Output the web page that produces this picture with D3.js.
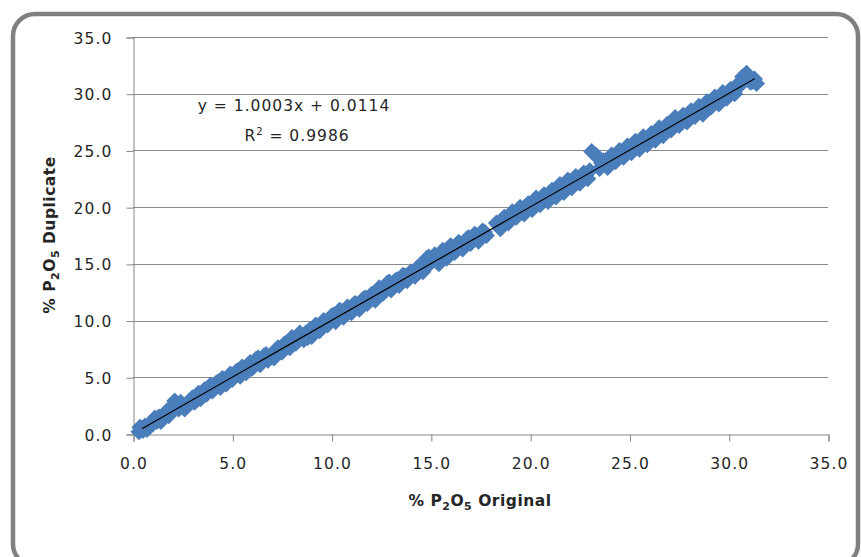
<!DOCTYPE html>
<html>
<head>
<meta charset="utf-8">
<script src="https://cdn.jsdelivr.net/npm/d3@7"></script>
<style>
  body { margin: 0; background: #fff; }
  text { font-family: "DejaVu Sans", sans-serif; }
</style>
</head>
<body>
<script>
// % P2O5 original vs duplicate assays (two passes along the band)
var origX = [0.3,0.4,0.5,0.6,0.8,0.9,1.0,1.2,1.3,1.5,1.6,1.8,1.9,2.0,2.1,2.2,2.3,2.5,2.7,2.8,
  3.0,3.1,3.3,3.4,3.6,3.7,3.9,4.0,4.2,4.4,4.5,4.7,4.9,5.0,5.2,5.4,5.5,5.7,5.9,6.0,
  6.2,6.4,6.6,6.8,7.0,7.1,7.3,7.5,7.7,7.9,8.0,8.2,8.4,8.6,8.8,9.0,9.2,9.4,9.6,9.8,
  10.0,10.2,10.4,10.6,10.8,11.0,11.2,11.4,11.6,11.8,12.0,12.2,12.4,12.6,12.8,13.0,13.2,13.4,13.6,13.8,
  14.0,14.2,14.4,14.6,14.8,15.0,15.2,15.4,15.6,15.8,16.0,16.2,16.4,16.6,16.8,17.0,17.2,17.4,17.6,17.8,
  18.3,18.5,18.7,18.9,19.1,19.3,19.5,19.7,19.9,20.1,20.3,20.5,20.7,20.9,21.1,21.3,21.5,21.7,21.9,22.1,
  22.3,22.5,22.7,22.9,23.1,23.3,23.5,23.7,23.9,24.1,24.3,24.5,24.7,24.9,25.1,25.3,25.5,25.7,25.9,26.1,
  26.3,26.5,26.7,26.9,27.1,27.3,27.5,27.7,27.9,28.1,28.3,28.5,28.7,28.9,29.1,29.3,29.5,29.7,29.9,30.1,
  30.3,30.5,30.7,30.9,31.1,31.3,31.4];
var dupY = [0.2,0.5,0.3,0.7,0.6,1.0,0.9,1.1,1.5,1.3,1.8,1.6,2.2,2.5,2.9,2.6,2.2,2.4,2.5,2.6,
  3.2,2.8,3.6,3.1,3.9,3.5,4.3,3.8,4.5,4.1,4.9,4.4,5.3,4.8,5.5,5.1,5.9,5.4,6.3,5.8,
  6.6,6.1,6.9,6.5,7.0,6.7,7.6,7.2,8.0,7.6,8.5,8.0,8.9,8.3,8.5,8.6,9.6,9.1,10.0,9.6,
  10.4,9.9,10.9,10.3,11.2,10.7,11.5,11.0,11.9,11.5,12.3,11.8,12.9,12.4,13.3,12.7,13.5,13.1,14.0,13.5,
  14.3,13.9,14.8,14.3,15.5,15.1,15.8,15.0,16.2,15.5,16.6,16.0,16.9,16.3,17.2,16.8,17.6,17.0,17.9,17.5,
  18.6,18.1,19.1,18.6,19.6,19.1,20.0,19.4,20.3,19.8,20.8,20.2,21.1,20.5,21.5,20.9,22.0,21.3,22.4,21.7,
  22.7,22.1,23.0,22.5,24.9,24.6,23.4,24.1,23.5,24.6,24.0,25.0,24.4,25.4,24.8,25.8,25.1,26.2,25.5,26.5,
  25.9,27.0,26.3,27.3,26.8,27.9,27.2,28.1,27.5,28.5,28.0,28.9,28.2,29.3,28.8,29.7,29.1,30.1,29.6,30.4,
  30.0,30.9,31.5,31.8,31.0,31.3,30.9];
var origX2 = [0.35,0.7,1.1,1.4,1.7,2.05,2.4,2.6,2.9,3.2,3.5,3.8,4.1,4.3,4.6,4.8,5.1,5.3,5.6,5.8,
  6.1,6.3,6.5,6.7,6.9,7.2,7.4,7.6,7.8,8.1,8.3,8.5,8.7,8.9,9.1,9.3,9.5,9.7,9.9,10.1,
  10.3,10.5,10.7,10.9,11.1,11.3,11.5,11.7,11.9,12.1,12.3,12.5,12.7,12.9,13.1,13.3,13.5,13.7,13.9,14.1,
  14.3,14.5,14.7,14.9,15.1,15.3,15.5,15.7,15.9,16.1,16.3,16.5,16.7,16.9,17.1,17.3,17.5,17.7,18.4,18.6,
  18.8,19.0,19.2,19.4,19.6,19.8,20.0,20.2,20.4,20.6,20.8,21.0,21.2,21.4,21.6,21.8,22.0,22.2,22.4,22.6,
  22.8,23.0,23.4,23.6,23.8,24.0,24.2,24.4,24.6,24.8,25.0,25.2,25.4,25.6,25.8,26.0,26.2,26.4,26.6,26.8,
  27.0,27.2,27.4,27.6,27.8,28.0,28.2,28.4,28.6,28.8,29.0,29.2,29.4,29.6,29.8,30.0,30.2,30.4,30.6,30.8,
  31.0,31.2];
var dupY2 = [0.6,0.4,1.4,1.1,2.0,2.3,2.8,2.2,3.0,3.4,3.3,4.1,4.0,4.6,4.5,5.0,5.2,5.6,5.5,6.1,
  6.0,6.7,6.4,7.0,6.8,7.4,7.5,7.9,7.8,8.2,8.6,8.5,8.9,9.2,9.0,9.4,9.7,9.8,10.1,10.5,
  10.2,10.8,10.6,11.0,11.4,11.2,11.6,12.0,11.8,12.2,12.6,12.5,12.9,13.4,13.0,13.6,13.4,13.9,14.1,14.2,
  14.6,14.4,15.0,15.6,15.4,15.6,15.4,16.0,16.4,16.2,16.6,16.5,16.9,17.3,17.1,17.5,17.6,17.8,18.4,18.9,
  18.8,19.3,19.2,19.7,19.6,20.1,20.0,20.5,20.4,20.9,20.8,21.3,21.1,21.7,21.6,22.1,22.0,22.5,22.4,22.8,
  22.8,23.2,24.4,23.9,24.0,24.3,24.2,24.7,24.6,25.1,25.0,25.5,25.4,25.8,25.8,26.2,26.2,26.7,26.6,27.0,
  27.0,27.5,27.4,27.8,27.9,28.2,28.3,28.6,28.6,29.0,29.1,29.4,29.5,29.8,29.9,30.2,30.3,30.6,30.8,31.2,
  31.4,31.1];
var ticks = [0, 5, 10, 15, 20, 25, 30, 35];
var slope = 1.0003, intercept = 0.0114;
var trendX = [0.45, 31.3];

var w = 861, h = 557;
var svg = d3.select("body").append("svg").attr("width", w).attr("height", h);

svg.append("rect")
  .attr("x", 13).attr("y", 14).attr("width", 845).attr("height", 552)
  .attr("rx", 22).attr("ry", 22)
  .attr("fill", "#fff").attr("stroke", "#808080").attr("stroke-width", 4.5);

var x = d3.scaleLinear().domain([0, 35]).range([133, 828]);
var y = d3.scaleLinear().domain([0, 35]).range([434, 37]);

// gridlines
svg.selectAll("line.grid")
  .data(ticks.slice(1))
  .enter().append("line")
  .attr("x1", 133).attr("x2", 828)
  .attr("y1", function (d) { return Math.round(y(d)) + 0.5; })
  .attr("y2", function (d) { return Math.round(y(d)) + 0.5; })
  .attr("stroke", "#8a8a8a").attr("stroke-width", 1);

var fmt = d3.format(".1f");

var yAxis = svg.append("g")
  .attr("transform", "translate(133.5,0.5)")
  .call(d3.axisLeft(y).tickValues(ticks).tickFormat(fmt).tickSize(7).tickPadding(14));
var xAxis = svg.append("g")
  .attr("transform", "translate(0.5,434.5)")
  .call(d3.axisBottom(x).tickValues(ticks).tickFormat(fmt).tickSize(7).tickPadding(16));

[xAxis, yAxis].forEach(function (g) {
  g.select(".domain").attr("stroke", "#868686");
  g.selectAll(".tick line").attr("stroke", "#868686");
  g.selectAll(".tick text")
    .attr("fill", "#262626")
    .style("font-size", "15.5px")
    .style("letter-spacing", "1.1px")
    .style("font-family", "DejaVu Sans, sans-serif");
});
yAxis.selectAll(".tick text").attr("dy", "0.36em");

// diamonds
var pts = origX.map(function (d, i) { return [d, dupY[i]]; })
  .concat(origX2.map(function (d, i) { return [d, dupY2[i]]; }));
var r = 8.5;
svg.append("g").selectAll("path")
  .data(pts)
  .enter().append("path")
  .attr("transform", function (d) { return "translate(" + x(d[0]) + "," + y(d[1]) + ")"; })
  .attr("d", "M0," + (-r) + "L" + r + ",0L0," + r + "L" + (-r) + ",0Z")
  .attr("fill", "#4a7ebb");

// trendline
svg.append("line")
  .attr("x1", x(trendX[0])).attr("y1", y(slope * trendX[0] + intercept))
  .attr("x2", x(trendX[1])).attr("y2", y(slope * trendX[1] + intercept))
  .attr("stroke", "#000").attr("stroke-width", 1.2);

// equation
svg.append("text")
  .attr("x", 294).attr("y", 111)
  .attr("text-anchor", "middle")
  .style("font-size", "15.5px").style("letter-spacing", "1px")
  .attr("fill", "#262626")
  .text("y = 1.0003x + 0.0114");
var r2 = svg.append("text")
  .attr("x", 297).attr("y", 141)
  .attr("text-anchor", "middle")
  .style("font-size", "15.5px").style("letter-spacing", "1px")
  .attr("fill", "#262626");
r2.append("tspan").text("R");
r2.append("tspan").attr("dy", -6).style("font-size", "10px").text("2");
r2.append("tspan").attr("dy", 6).text(" = 0.9986");

// axis titles
var xt = svg.append("text")
  .attr("x", 480).attr("y", 506)
  .attr("text-anchor", "middle")
  .style("font-size", "15.5px").style("font-weight", "bold").style("letter-spacing", "0.5px")
  .attr("fill", "#262626");
xt.append("tspan").text("% P");
xt.append("tspan").attr("dy", 4).style("font-size", "11px").text("2");
xt.append("tspan").attr("dy", -4).text("O");
xt.append("tspan").attr("dy", 4).style("font-size", "11px").text("5");
xt.append("tspan").attr("dy", -4).text(" Original");

var yt = svg.append("text")
  .attr("transform", "translate(55,235) rotate(-90)")
  .attr("text-anchor", "middle")
  .style("font-size", "15.5px").style("font-weight", "bold").style("letter-spacing", "0.5px")
  .attr("fill", "#262626");
yt.append("tspan").text("% P");
yt.append("tspan").attr("dy", 4).style("font-size", "11px").text("2");
yt.append("tspan").attr("dy", -4).text("O");
yt.append("tspan").attr("dy", 4).style("font-size", "11px").text("5");
yt.append("tspan").attr("dy", -4).text(" Duplicate");
</script>
</body>
</html>
